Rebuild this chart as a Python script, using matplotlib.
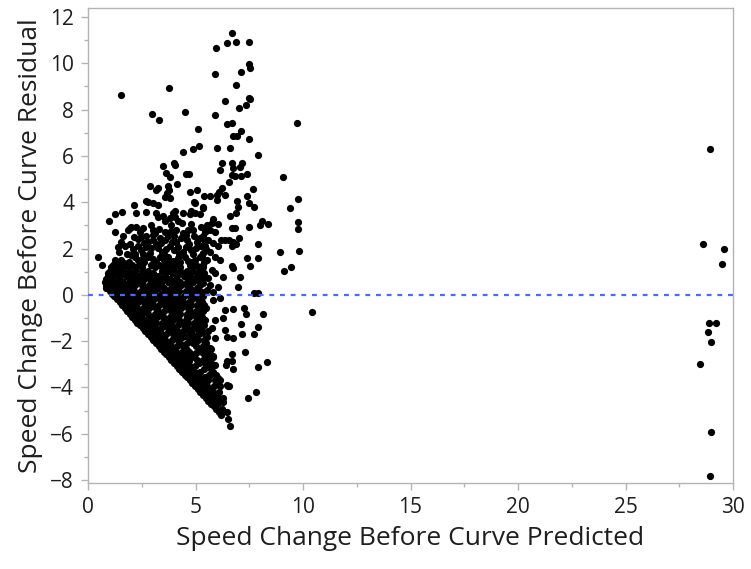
import matplotlib
matplotlib.use("Agg")
import matplotlib.pyplot as plt
from matplotlib.ticker import MultipleLocator

# ---------------- data ----------------
# sparse high residuals
upper_pts = [
    (1.53, 8.63), (3.75, 8.93), (2.99, 7.82), (3.32, 7.57), (4.50, 7.88), (5.10, 7.17),
    (4.40, 6.16), (4.88, 6.28), (5.16, 6.42),
    (6.71, 11.29), (5.97, 10.68), (6.45, 10.89), (6.88, 10.93), (7.47, 10.93),
    (7.47, 9.99), (7.53, 9.79), (5.91, 9.55), (7.10, 9.63), (6.88, 9.07),
    (7.47, 8.52), (7.53, 8.47), (6.39, 8.38), (7.04, 8.08), (7.36, 8.18),
    (5.91, 7.78), (6.45, 7.37), (6.68, 7.43), (9.74, 7.43), (6.73, 6.87), (6.92, 6.87),
    (7.10, 7.08), (7.47, 6.73), (6.01, 6.34), (6.60, 6.34), (7.91, 6.06),
]

# medium-density cloud above the core
mid_pts = [
    (3.49, 5.57), (4.00, 5.71), (4.06, 5.60), (3.61, 5.28), (3.80, 5.11), (4.55, 5.23), (4.68, 5.23),
    (2.88, 4.68), (3.26, 4.63), (3.18, 4.51), (3.72, 4.68), (3.66, 4.39), (3.78, 4.53),
    (3.57, 4.22), (3.80, 4.17), (4.14, 4.79), (4.73, 4.42), (5.09, 4.53), (4.93, 4.03),
    (4.99, 3.96), (5.40, 4.27), (5.35, 3.79), (2.71, 4.07), (2.79, 3.99), (3.02, 3.96),
    (3.26, 3.86), (2.14, 3.89), (1.60, 3.56), (1.24, 3.48), (0.96, 3.21), (2.25, 3.53),
    (2.71, 3.57), (3.18, 3.55), (3.26, 3.38), (3.49, 3.41), (3.57, 3.17), (3.80, 3.31),
    (3.84, 3.02), (4.03, 3.64), (4.06, 3.38), (4.19, 3.20), (4.42, 3.53), (4.37, 3.09),
    (4.81, 3.60), (4.73, 3.50), (4.96, 3.53), (5.19, 3.50), (1.27, 2.73), (1.94, 2.88),
    (1.98, 2.95), (1.86, 2.81), (2.56, 2.88), (2.95, 3.02), (3.02, 2.81), (3.10, 2.66),
    (2.14, 2.49), (2.33, 2.40), (2.48, 2.49), (2.71, 2.55), (2.79, 2.30), (3.02, 2.37),
    (3.33, 2.45), (3.57, 2.37), (3.72, 2.52), (4.00, 2.55), (4.11, 2.30), (4.34, 2.45),
    (4.65, 2.81), (4.88, 2.78), (4.57, 2.59), (4.93, 2.52), (5.27, 2.95), (5.43, 2.81),
    (5.40, 2.37), (5.19, 2.45), (2.33, 2.09), (2.09, 1.97), (2.48, 1.94), (2.71, 2.06),
    (2.95, 2.01), (1.83, 1.76), (2.02, 1.73), (3.26, 2.01), (3.44, 1.87), (3.64, 1.97),
    (3.80, 2.09), (4.00, 1.94), (4.19, 2.06), (4.42, 1.87), (4.57, 2.06), (4.81, 1.94),
    (5.04, 2.01), (5.27, 2.12), (5.50, 1.97), (0.47, 1.65), (0.65, 1.29), (1.27, 1.51),
    (1.32, 1.25), (1.47, 1.19), (1.55, 1.51), (1.67, 1.37), (2.17, 1.65), (2.33, 1.51),
    (2.56, 1.58), (2.79, 1.65), (3.02, 1.54), (3.33, 1.65), (3.53, 1.51), (3.72, 1.63),
    (3.95, 1.44), (4.19, 1.58), (4.50, 1.65), (4.65, 1.44), (4.96, 1.51), (5.19, 1.65),
    (5.43, 1.51), (0.85, 0.36),
    (1.45, 1.85), (1.70, 2.10), (1.55, 2.30), (2.60, 2.25), (2.90, 1.80), (3.15, 2.20),
    (3.40, 2.25), (3.90, 2.30), (4.25, 1.75), (4.70, 2.20), (5.05, 2.30), (5.35, 1.80),
    (1.95, 2.20), (2.20, 1.78), (3.00, 2.60), (3.60, 2.70), (4.40, 2.65), (1.65, 2.55),
    (2.40, 2.70), (3.85, 2.75), (4.60, 2.35), (1.40, 2.05), (2.55, 1.75), (3.55, 1.78),
    (4.90, 1.78), (4.10, 2.80), (3.30, 2.85), (2.25, 2.95), (4.80, 3.05), (3.95, 3.55),
]

# points right of the core (x 5.2 - 10.5)
right_pts = [
    (6.22, 5.69), (6.71, 5.71), (7.15, 5.69), (7.07, 5.51), (6.14, 5.40), (6.76, 5.47),
    (6.71, 5.18), (6.84, 5.14), (7.10, 5.14), (7.41, 5.21), (6.57, 4.89), (9.09, 5.11),
    (7.69, 4.56), (6.22, 4.61), (6.11, 4.45), (5.67, 4.27), (6.02, 4.32), (6.37, 4.32),
    (5.98, 4.10), (7.38, 4.27), (6.95, 4.04), (7.50, 3.96), (7.72, 3.81), (6.99, 3.81),
    (9.78, 4.16), (9.40, 3.76), (5.36, 3.74), (6.88, 3.53), (6.61, 3.41), (5.83, 3.27),
    (8.08, 3.17), (8.00, 3.02), (8.39, 3.07), (9.78, 3.15), (9.78, 2.85), (7.49, 2.91),
    (6.68, 2.88), (6.84, 2.88), (5.52, 3.02), (5.75, 3.09), (6.06, 3.07), (5.44, 2.73),
    (5.68, 2.81), (5.91, 2.73), (5.36, 2.52), (5.60, 2.37), (5.83, 2.23), (5.44, 2.09),
    (6.06, 2.09), (5.68, 1.87), (5.29, 1.73), (5.91, 1.65), (5.52, 1.51), (6.14, 1.51),
    (6.17, 2.37), (6.37, 2.37), (6.57, 2.37), (6.76, 2.30), (7.04, 2.45), (6.88, 2.20),
    (6.68, 2.12), (7.92, 2.20), (8.93, 1.87), (9.83, 1.91), (7.38, 1.58), (7.92, 1.60),
    (7.54, 1.25), (6.68, 1.25), (6.76, 1.15), (9.43, 1.19), (9.13, 1.05), (6.29, 0.79),
    (7.07, 0.79), (6.06, 0.33), (6.99, 0.32), (7.74, 0.07), (7.92, 0.07), (5.36, 1.22),
    (5.75, 1.08), (5.29, 0.86), (5.60, 0.72), (5.91, 0.93), (5.36, 0.50), (5.68, 0.43),
    (5.29, 0.14), (5.52, 0.21), (5.83, 0.14),
    (10.43, -0.75), (8.12, -0.82), (7.26, -0.55), (7.33, -0.83), (7.10, -1.27),
    (7.92, -1.40), (7.74, -1.70), (7.15, -1.70), (6.39, -1.51), (6.45, -1.84),
    (6.76, -1.87), (7.30, -2.49), (6.68, -2.56), (8.34, -2.91), (7.89, -3.14),
    (6.45, -2.88), (6.68, -2.88), (6.73, -3.20), (6.42, -3.02), (6.06, -3.60),
    (6.53, -3.92), (6.57, -3.96), (7.80, -4.20), (7.43, -4.46), (5.83, -4.72),
    (6.06, -4.68), (6.29, -4.61), (6.11, -5.07), (6.45, -5.07), (6.50, -5.36),
    (6.60, -5.66), (5.83, -0.22), (6.14, -0.12), (6.37, -0.65), (6.76, -0.60),
    (6.26, -1.01), (5.91, -1.08), (5.75, -1.44), (5.91, -1.87), (5.83, -2.66),
    (5.68, -2.30), (5.91, -3.02), (5.68, -3.46), (6.14, -3.67), (6.45, -3.89),
]

# dense core: (residual, [predicted values along that row])
core_rows = [
    (1.42, [1.30, 1.90, 2.60, 3.15, 3.70, 4.30, 4.85, 5.40]),
    (1.30, [1.15, 1.45, 1.78, 2.05, 2.38, 2.95, 3.28, 3.55, 3.86, 4.15, 4.75, 5.02, 5.35]),
    (1.18, [1.08, 1.62, 1.90, 2.22, 2.50, 3.13, 3.42, 3.70, 4.02, 4.30, 4.90, 5.18]),
    (1.05, [1.00, 1.30, 1.60, 1.92, 2.20, 2.52, 2.80, 3.42, 3.70, 4.00, 4.30, 4.60, 4.90, 5.20]),
    (0.93, [0.95, 1.22, 1.50, 1.80, 2.10, 2.70, 3.00, 3.60, 3.90, 4.20, 4.50, 5.10, 5.40]),
    (0.80, [0.92, 1.18, 1.48, 1.77, 2.08, 2.36, 2.65, 2.97, 3.25, 3.56, 4.14, 4.46, 4.74, 5.05, 5.36]),
    (0.68, [0.85, 1.13, 1.42, 2.00, 2.32, 2.60, 2.90, 3.22, 3.50, 3.80, 4.10, 4.70, 5.00, 5.30]),
    (0.55, [0.80, 1.05, 1.33, 1.62, 1.93, 2.22, 2.52, 3.12, 3.40, 3.70, 4.00, 4.30, 4.60, 4.90, 5.20]),
    (0.43, [0.95, 1.30, 1.60, 1.90, 2.20, 2.50, 2.82, 3.10, 3.40, 4.00, 4.32, 4.62, 5.22]),
    (0.30, [0.86, 1.18, 1.47, 1.77, 2.06, 2.66, 2.96, 3.26, 3.55, 3.85, 4.15, 4.75, 5.06]),
    (0.18, [1.00, 1.25, 1.55, 1.85, 2.15, 2.45, 2.75, 3.05, 3.65, 3.95, 4.25, 4.55, 4.85, 5.15]),
    (0.05, [1.10, 1.35, 1.63, 2.22, 2.50, 2.80, 3.10, 3.40, 3.70, 4.00, 4.58, 4.88, 5.18]),
    (-0.07, [1.22, 1.50, 1.78, 2.08, 2.38, 2.98, 3.28, 3.56, 4.16, 4.46, 4.76, 5.06, 5.35]),
    (-0.20, [1.35, 1.60, 1.88, 2.17, 2.46, 2.75, 3.05, 3.35, 3.63, 3.93, 4.22, 4.82, 5.12]),
    (-0.32, [1.47, 1.74, 2.02, 2.32, 2.60, 2.90, 3.50, 3.80, 4.10, 4.40, 4.70, 5.30]),
    (-0.45, [1.58, 1.85, 2.12, 2.70, 3.00, 3.28, 3.58, 3.88, 4.48, 4.78, 5.08, 5.38]),
    (-0.57, [1.70, 1.98, 2.26, 2.55, 2.85, 3.15, 3.74, 4.04, 4.34, 4.64, 5.24, 5.50]),
    (-0.70, [1.82, 2.10, 2.38, 2.66, 3.25, 3.54, 3.84, 4.14, 4.74, 5.03, 5.33]),
    (-0.82, [1.95, 2.22, 2.50, 2.80, 3.10, 3.40, 4.00, 4.30, 4.60, 4.90, 5.20]),
    (-0.95, [2.06, 2.33, 2.90, 3.20, 3.50, 3.80, 4.10, 4.70, 5.00, 5.30]),
    (-1.07, [2.18, 2.45, 2.74, 3.04, 3.64, 3.94, 4.24, 4.54, 5.14, 5.42]),
    (-1.20, [2.30, 2.58, 2.86, 3.15, 3.45, 3.75, 4.35, 4.65, 4.95, 5.25]),
    (-1.32, [2.42, 2.70, 2.98, 3.58, 3.88, 4.18, 4.48, 5.08, 5.38]),
    (-1.45, [2.55, 2.82, 3.10, 3.40, 3.70, 4.00, 4.60, 4.90, 5.20]),
    (-1.57, [2.67, 2.94, 3.22, 3.82, 4.12, 4.42, 4.72, 5.32, 5.60]),
    (-1.70, [2.80, 3.06, 3.35, 3.65, 3.95, 4.25, 4.85, 5.15, 5.45]),
    (-1.82, [2.92, 3.18, 3.46, 4.06, 4.36, 4.66, 4.96, 5.55]),
    (-1.95, [3.04, 3.30, 3.60, 3.90, 4.20, 4.80, 5.10, 5.40]),
    (-2.07, [3.16, 3.42, 3.70, 4.30, 4.60, 4.90, 5.50]),
    (-2.20, [3.28, 3.55, 3.84, 4.14, 4.44, 5.04, 5.35]),
    (-2.32, [3.40, 3.66, 3.95, 4.55, 5.15, 5.45, 5.72]),
    (-2.45, [3.52, 3.80, 4.08, 4.38, 4.68, 5.28, 5.58]),
    (-2.57, [3.64, 3.90, 4.20, 4.80, 5.40, 5.68]),
    (-2.70, [3.77, 4.04, 4.33, 4.62, 4.92, 5.52, 5.80]),
    (-2.82, [3.88, 4.15, 4.45, 5.05, 5.35, 5.62]),
    (-2.95, [4.01, 4.28, 4.56, 5.16, 5.46, 5.74]),
    (-3.07, [4.12, 4.40, 4.68, 4.98, 5.58]),
    (-3.20, [4.25, 4.52, 4.80, 5.40, 5.70]),
    (-3.32, [4.37, 4.64, 4.92, 5.22, 5.80]),
    (-3.45, [4.49, 4.76, 5.05, 5.64, 5.95]),
    (-3.57, [4.61, 4.88, 5.16, 5.46]),
    (-3.70, [4.74, 5.00, 5.30, 5.60, 5.90]),
    (-3.82, [4.86, 5.12, 5.42, 6.00]),
    (-3.95, [4.98, 5.25, 5.55, 5.85, 6.15]),
    (-4.07, [5.10, 5.36, 5.66]),
    (-4.20, [5.22, 5.50, 5.80, 6.10]),
    (-4.32, [5.34, 5.62, 5.92]),
    (-4.45, [5.47, 5.75, 6.05, 6.30]),
    (-4.57, [5.60, 5.88]),
    (-4.70, [5.72, 6.00]),
    (-4.82, [5.84]),
    (-4.95, [5.95, 6.22]),
    (-5.20, [6.20]),
]

# extra core points off the row pattern
core_extra = [
    (4.60, -2.38), (4.50, -2.62), (4.72, -2.88), (4.85, -3.13), (5.10, -3.38),
    (5.15, -3.62), (5.30, -3.88), (5.55, -4.12), (5.70, -4.38), (5.02, -2.52),
    (4.95, -2.02), (4.48, -1.76), (3.98, -1.50), (3.52, -1.00), (3.00, -0.50),
    (3.35, -1.62), (3.78, -2.12), (4.18, -2.66), (2.62, -1.10), (2.25, -0.55),
    (4.20, -0.35), (4.62, -0.95), (5.12, -1.52), (5.45, -2.55), (3.90, 0.60),
]

# isolated group at large predicted values
far_pts = [
    (28.93, 6.32), (28.60, 2.20), (29.58, 1.96), (29.47, 1.35), (28.88, -1.20),
    (29.21, -1.20), (28.82, -1.61), (28.99, -2.06), (28.45, -2.97), (28.99, -5.92),
    (28.93, -7.82),
]

x_ticks = [0, 5, 10, 15, 20, 25, 30]
y_ticks = [-8, -6, -4, -2, 0, 2, 4, 6, 8, 10, 12]
x_label = "Speed Change Before Curve Predicted"
y_label = "Speed Change Before Curve Residual"

# ---------------- assemble ----------------
xs, ys = [], []
for group in (upper_pts, mid_pts, right_pts, core_extra, far_pts):
    for px, py in group:
        xs.append(px)
        ys.append(py)
for ry, row in core_rows:
    for px in row:
        xs.append(px)
        ys.append(ry)

# ---------------- plot ----------------
plt.rcParams['font.family'] = ['Open Sans', 'DejaVu Sans']
fig = plt.figure(figsize=(7.51, 5.69), dpi=100)
ax = fig.add_axes([88 / 751, 1 - 483 / 569, (733 - 88) / 751, (483 - 8) / 569])

ax.scatter(xs, ys, s=27, color='black', linewidths=0, zorder=2)
ax.axhline(0, color='#3d72ff', lw=1.6, linestyle=(0, (2.2, 2.6)), zorder=3)

ax.set_xlim(0, 30)
ax.set_ylim(-8.13, 12.39)
ax.set_xticks(x_ticks)
ax.set_yticks(y_ticks)
ax.xaxis.set_minor_locator(MultipleLocator(2.5))
ax.yaxis.set_minor_locator(MultipleLocator(1))

spine_c = '#b4b4b4'
for s in ax.spines.values():
    s.set_color(spine_c)
    s.set_linewidth(1.0)
ax.tick_params(axis='both', which='major', direction='out', length=5, width=1,
               color=spine_c, labelsize=15, labelcolor='#1e1e1e', pad=5)
ax.tick_params(axis='both', which='minor', direction='out', length=3, width=1, color=spine_c)

ax.set_xlabel(x_label, fontsize=19, color='#1e1e1e', labelpad=6)
ax.set_ylabel(y_label, fontsize=19, color='#1e1e1e', labelpad=5)

fig.savefig('out.png', dpi=100)
